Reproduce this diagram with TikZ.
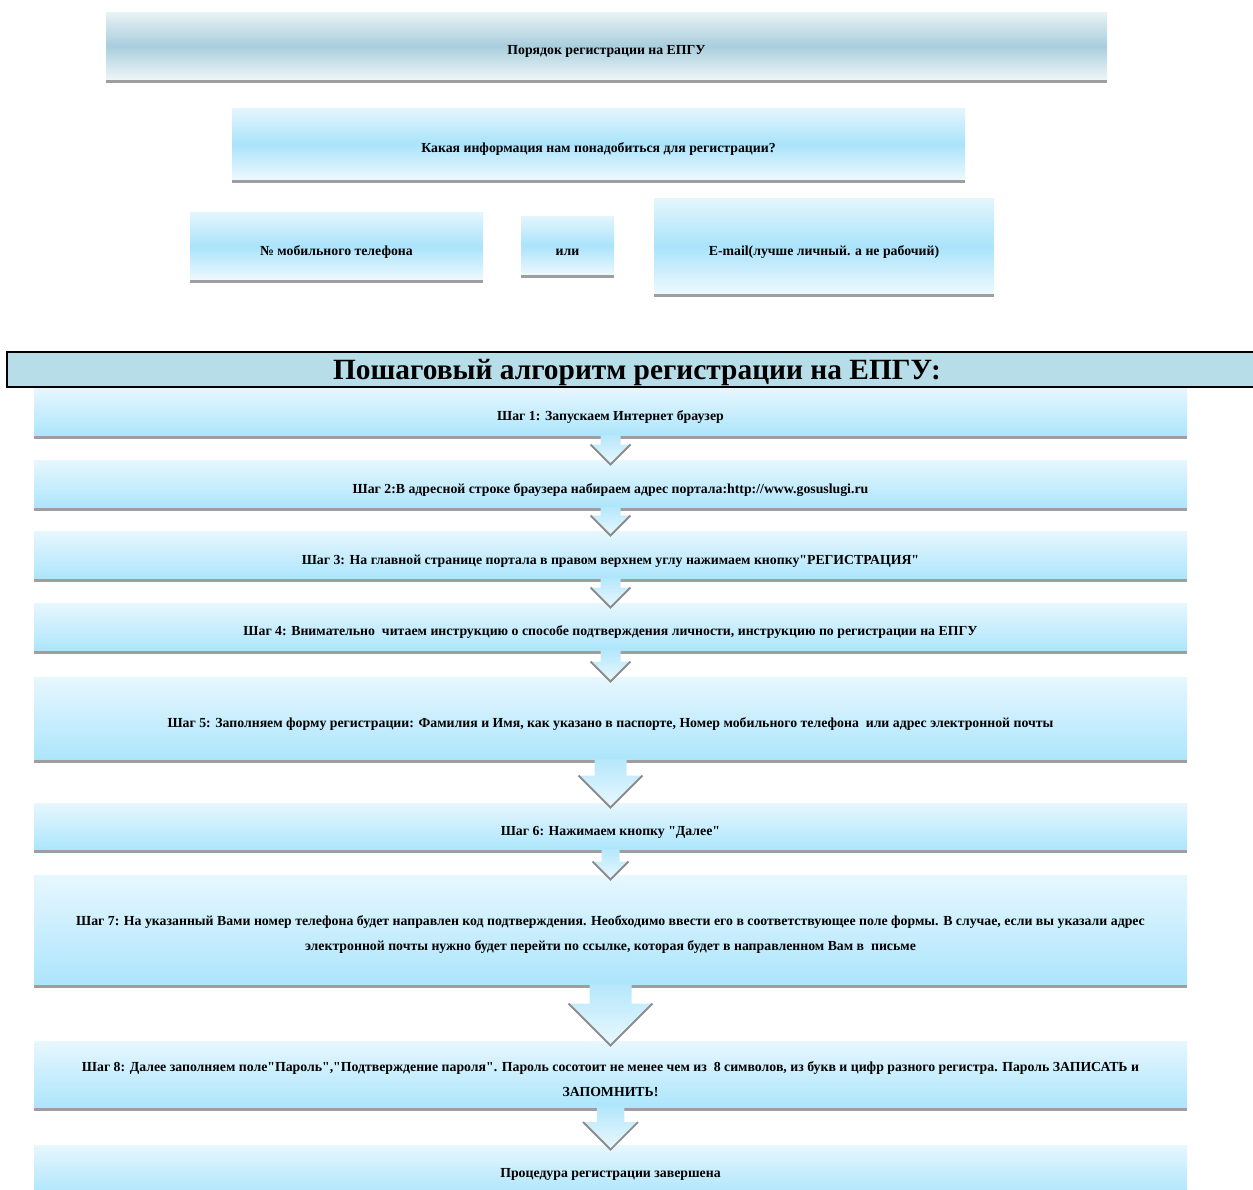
\documentclass[tikz,border=0pt]{standalone}
\usepackage{fontspec}
\setmainfont{Liberation Serif}[Ligatures=TeXOff]
\usetikzlibrary{calc}
\definecolor{barg}{HTML}{9E9E9E}
\definecolor{shadowg}{HTML}{8C8C8C}
\definecolor{gtop}{HTML}{E8F2F5}
\definecolor{gmid}{HTML}{A9CEDD}
\definecolor{gbot}{HTML}{EEF6F8}
\definecolor{btop}{HTML}{E4F6FD}
\definecolor{bmid}{HTML}{AAE3FB}
\definecolor{bbot}{HTML}{EEF9FE}
\definecolor{stop}{HTML}{E7F7FE}
\definecolor{sbot}{HTML}{ACE5FC}
\definecolor{tbar}{HTML}{B7DDE8}
\definecolor{atop}{HTML}{B5E7FB}
\definecolor{abot}{HTML}{EAF8FE}
\tikzset{
  x=1pt, y=-1pt,
  basebox/.style={inner sep=0pt, outer sep=0pt, anchor=north west, align=center,
     font=\fontsize{13.8}{25}\selectfont\bfseries, text=black},
  greybox/.style={basebox, top color=gtop, bottom color=gbot, middle color=gmid},
  bluebox/.style={basebox, top color=btop, bottom color=bbot, middle color=bmid},
  stepbox/.style={basebox, top color=stop, bottom color=sbot, minimum width=1153},
  titlebar/.style={inner sep=0pt, outer sep=0pt, anchor=north west, fill=tbar, draw=black,
     line width=1.2pt, font=\fontsize{29.4}{30}\selectfont\bfseries},
  bar/.style={draw=barg, line width=3pt},
  arrfill/.style={top color=atop, bottom color=abot},
  arrshadow/.style={draw=shadowg, line width=1.8pt},
}
% text lowered inside its box (box size kept, so the shift shows)
\newcommand\tx[2][3.5pt]{\raisebox{-#1}[\height][\depth]{\begin{tabular}{@{}c@{}}#2\end{tabular}}}
% underline bar below a node
\newcommand\boxbar[1]{\draw[bar] ([yshift=-1.5pt]#1.south west) -- ([yshift=-1.5pt]#1.south east);}
% block arrow from node #1 to node #2 with head width #3
\newcommand\blockarr[3]{%
  \shade[arrfill] let \p1=(#1.south), \p2=(#2.north) in
    ({\x1-0.25*#3pt},{\y1+1pt}) -- ({\x1+0.25*#3pt},{\y1+1pt})
    -- ({\x1+0.25*#3pt},{\y2-4.5pt+0.5*#3pt}) -- ({\x1+0.5*#3pt},{\y2-4.5pt+0.5*#3pt})
    -- ({\x1},{\y2-4.5pt}) -- ({\x1-0.5*#3pt},{\y2-4.5pt+0.5*#3pt})
    -- ({\x1-0.25*#3pt},{\y2-4.5pt+0.5*#3pt}) -- cycle;
  \draw[arrshadow] let \p1=(#1.south), \p2=(#2.north) in
    ({\x1-0.5*#3pt},{\y2-4.5pt+0.5*#3pt}) -- ({\x1},{\y2-4.5pt}) -- ({\x1+0.5*#3pt},{\y2-4.5pt+0.5*#3pt});
}
\begin{document}
\begin{tikzpicture}
\path[use as bounding box] (0,0) rectangle (1253,1189);
\clip (0,0) rectangle (1253,1189);

% top section
\node[greybox, minimum width=1001, minimum height=68] (top) at (106,12) {\tx[3pt]{Порядок регистрации на ЕПГУ}};
\boxbar{top}
\node[bluebox, minimum width=733, minimum height=72] (q) at (232,108) {\tx[3pt]{Какая информация нам понадобиться для регистрации?}};
\boxbar{q}
\node[bluebox, minimum width=293, minimum height=68] (phone) at (190,212) {\tx[4pt]{№ мобильного телефона}};
\boxbar{phone}
\node[bluebox, minimum width=93, minimum height=59] (ili) at (521,216) {\tx[4.5pt]{или}};
\boxbar{ili}
\node[bluebox, minimum width=340, minimum height=96] (mail) at (654,198) {\tx[4pt]{E-mail(лучше личный. а не рабочий)}};
\boxbar{mail}

% title bar
\node[titlebar, minimum width=1260, minimum height=35] (title) at (7,352) {\raisebox{-3pt}[\height][\depth]{Пошаговый алгоритм регистрации на ЕПГУ:}};

% steps
\node[stepbox, minimum height=48] (s1) at (34,388) {\tx[3pt]{Шаг 1: Запускаем Интернет браузер}};
\node[stepbox, minimum height=48] (s2) at (34,460) {\tx[4pt]{Шаг 2:В адресной строке браузера набираем адрес портала:http://www.gosuslugi.ru}};
\node[stepbox, minimum height=48] (s3) at (34,531) {\tx[4pt]{Шаг 3: На главной странице портала в правом верхнем углу нажимаем кнопку"РЕГИСТРАЦИЯ"}};
\node[stepbox, minimum height=48] (s4) at (34,603) {\tx[3pt]{Шаг 4: Внимательно\ \ читаем инструкцию о способе подтверждения личности, инструкцию по регистрации на ЕПГУ}};
\node[stepbox, minimum height=83] (s5) at (34,677) {\tx{Шаг 5: Заполняем форму регистрации: Фамилия и Имя, как указано в паспорте, Номер мобильного телефона\ \ или адрес электронной почты}};
\node[stepbox, minimum height=47] (s6) at (34,803) {\tx{Шаг 6: Нажимаем кнопку "Далее"}};
\node[stepbox, minimum height=110] (s7) at (34,875) {\tx[3pt]{Шаг 7: На указанный Вами номер телефона будет направлен код подтверждения. Необходимо ввести его в соответствующее поле формы. В случае, если вы указали адрес\\электронной почты нужно будет перейти по ссылке, которая будет в направленном Вам в\ \ письме}};
\node[stepbox, minimum height=67] (s8) at (34,1041) {\tx[4pt]{Шаг 8: Далее заполняем поле"Пароль","Подтверждение пароля". Пароль сосотоит не менее чем из\ \ 8 символов, из букв и цифр разного регистра. Пароль ЗАПИСАТЬ и\\ЗАПОМНИТЬ!}};
\node[stepbox, minimum height=50] (s9) at (34,1145) {\tx[2pt]{Процедура регистрации завершена}};

\foreach \n in {s1,s2,s3,s4,s5,s6,s7,s8,s9} {\boxbar{\n}}

% arrows
\blockarr{s1}{s2}{40}
\blockarr{s2}{s3}{40}
\blockarr{s3}{s4}{40}
\blockarr{s4}{s5}{40}
\blockarr{s5}{s6}{64}
\blockarr{s6}{s7}{36}
\blockarr{s7}{s8}{84}
\blockarr{s8}{s9}{55}
\end{tikzpicture}
\end{document}
